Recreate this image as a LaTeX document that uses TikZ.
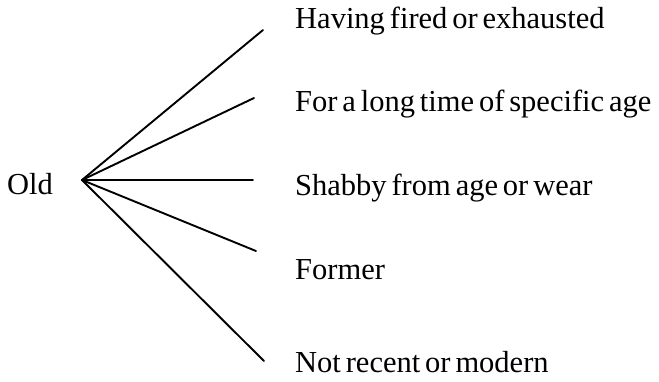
\documentclass[tikz,border=0pt]{standalone}
\usepackage{fontspec}
\setmainfont{Liberation Serif}
\usetikzlibrary{positioning}
\newcommand{\wordfont}{\fontsize{30.5}{32}\selectfont\spaceskip=0.16em plus 0.05em\relax}

\begin{document}
\begin{tikzpicture}[x=1pt,y=-1pt,
  word/.style={font=\wordfont,anchor=base west,inner sep=0pt},
  spoke/.style={line width=1.9pt,line cap=round}]
  \useasboundingbox (0,0) rectangle (659,381);
  \node[word] (old) at (7,194) {Old};
  \coordinate (hub) at (82,180);
  % ends of the spokes
  \coordinate (e1) at (263,30);
  \coordinate (e2) at (254,98);
  \coordinate (e3) at (253,180);
  \coordinate (e4) at (256,251);
  \coordinate (e5) at (264,361);
  % meanings
  \node[word] (m1) at (295,28)  {Having fired or exhausted};
  \node[word] (m2) at (295,111) {For a long time of specific age};
  \node[word] (m3) at (295,195) {Shabby from age or wear};
  \node[word] (m4) at (295,279) {Former};
  \node[word] (m5) at (295,372) {Not recent or modern};
  \foreach \e in {e1,e2,e3,e4,e5} {\draw[spoke] (hub)--(\e);}
\end{tikzpicture}
\end{document}
